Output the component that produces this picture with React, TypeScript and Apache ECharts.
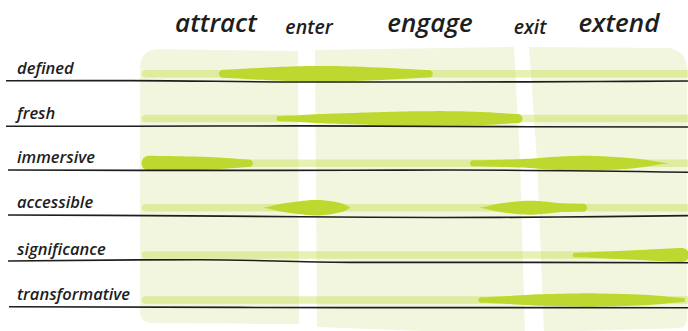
import React, { useEffect, useRef } from "react";
import * as echarts from "echarts";

// ---- data (chart units: x = journey position 0..688, y = vertical position 0..331) ----
const stages = ["attract", "enter", "engage", "exit", "extend"];
const stageX = [216, 309, 430, 530, 619];
const stageMajor = [true, false, true, false, true];
const stageBaseline = [32.5, 34, 32.5, 34, 32.5];

const rows = ["defined", "fresh", "immersive", "accessible", "significance", "transformative"];
const rowBandY = [73.8, 118.6, 163.3, 207.7, 255, 300];
const bandStartX = 145.5;
const bandEndX = 700;
const labelX = 17;

// rule lines under each row: [x, y]
const ruleDefined = [[6, 80.8], [130, 80.6], [300, 82], [450, 82], [600, 81.5], [688, 81]];
const ruleFresh = [[6, 126.2], [130, 126.2], [300, 125.9], [450, 126.5], [688, 127]];
const ruleImmersive = [[8, 170], [200, 170.4], [350, 170.2], [450, 170], [688, 172.3]];
const ruleAccessible = [[8, 215], [150, 215.6], [300, 216.7], [440, 217.5], [560, 217], [688, 215.6]];
const ruleSignificance = [[8, 261], [200, 259.7], [350, 262.4], [450, 262.3], [688, 262.7]];
const ruleTransformative = [[9, 306.7], [350, 307.6], [688, 307.7]];
const rules = [ruleDefined, ruleFresh, ruleImmersive, ruleAccessible, ruleSignificance, ruleTransformative];

// intensity blobs: profile = [x, thickness]; row index; rounded caps at start / end
const blobDefined = [[223, 8], [250, 11], [290, 14.5], [320, 15.8], [345, 15], [380, 12.5], [410, 9.5], [429, 7.5]];
const blobFresh = [[279, 5], [320, 9], [363, 12], [410, 14.5], [455, 14.8], [490, 12.5], [518, 9]];
const blobImmersiveA = [[149, 15], [180, 14], [210, 12.5], [235, 9.5], [249, 7.5]];
const blobImmersiveB = [[473, 6], [523, 8.5], [555, 13], [585, 15], [612, 13], [640, 8.5], [669, 0]];
const blobAccessibleA = [[263, 0], [280, 7.5], [300, 13], [316, 15.5], [331, 13], [343, 8], [351, 0]];
const blobAccessibleB = [[479, 0], [500, 8.5], [528, 14], [546, 12], [560, 9], [583, 8]];
const blobSignificance = [[575, 4.5], [605, 6.8], [633, 9.3], [660, 12], [677, 13.7], [682, 14]];
const blobTransformative = [[481, 5.3], [510, 8.2], [533, 11], [583, 13.3], [620, 12.2], [652, 9.6], [683, 4]];

const blobs = [
  { row: 0, profile: blobDefined, capStart: true, capEnd: true },
  { row: 1, profile: blobFresh, capStart: true, capEnd: true },
  { row: 2, profile: blobImmersiveA, capStart: true, capEnd: true },
  { row: 2, profile: blobImmersiveB, capStart: true, capEnd: false },
  { row: 3, profile: blobAccessibleA, capStart: false, capEnd: false },
  { row: 3, profile: blobAccessibleB, capStart: false, capEnd: true },
  { row: 4, profile: blobSignificance, capStart: true, capEnd: true },
  { row: 5, profile: blobTransformative, capStart: true, capEnd: true },
];

// background stage panels: outline vertices [x, y, cornerRadius]
const panelAttract = [[140, 49, 20], [298, 51, 0], [299, 324, 0], [140, 323, 12]];
const panelEngage = [[315, 50, 0], [514, 47, 0], [520, 160, 0], [525, 335, 0], [317, 327, 0]];
const panelExtend = [[529, 47, 0], [670, 48, 0], [687, 50, 20], [687, 328, 10], [544, 332, 0], [537, 160, 0]];
const panels = [panelAttract, panelEngage, panelExtend];

// ---- style ----
const FONT = '"Open Sans", "Noto Sans", sans-serif';
const PANEL = "#f2f6df";
const BAND = "rgba(190,216,46,0.37)";
const BLOB = "#bfd82f";
const INK = "#1e1e1e";

function catmull(p0: number, p1: number, p2: number, p3: number, s: number) {
  const s2 = s * s;
  const s3 = s2 * s;
  return 0.5 * (2 * p1 + (-p0 + p2) * s + (2 * p0 - 5 * p1 + 4 * p2 - p3) * s2 + (-p0 + 3 * p1 - 3 * p2 + p3) * s3);
}

function roundedPath(pts: number[][]) {
  const n = pts.length;
  let d = "";
  for (let i = 0; i < n; i++) {
    const p = pts[i];
    const prev = pts[(i - 1 + n) % n];
    const next = pts[(i + 1) % n];
    const r = p[2];
    if (r <= 0) {
      d += (i === 0 ? "M" : "L") + p[0].toFixed(2) + " " + p[1].toFixed(2) + " ";
    } else {
      const l1 = Math.hypot(prev[0] - p[0], prev[1] - p[1]);
      const l2 = Math.hypot(next[0] - p[0], next[1] - p[1]);
      const a = [p[0] + ((prev[0] - p[0]) * r) / l1, p[1] + ((prev[1] - p[1]) * r) / l1];
      const b = [p[0] + ((next[0] - p[0]) * r) / l2, p[1] + ((next[1] - p[1]) * r) / l2];
      d += (i === 0 ? "M" : "L") + a[0].toFixed(2) + " " + a[1].toFixed(2) + " ";
      d += "Q" + p[0].toFixed(2) + " " + p[1].toFixed(2) + " " + b[0].toFixed(2) + " " + b[1].toFixed(2) + " ";
    }
  }
  return d + "Z";
}

export default function App() {
  const ref = useRef<HTMLDivElement>(null);

  useEffect(() => {
    if (!ref.current) return;
    const chart = echarts.init(ref.current, null, { renderer: "svg" });

    const series: any[] = [];

    // panels
    series.push({
      type: "custom",
      silent: true,
      clip: false,
      z: 1,
      data: panels.map((p) => [p[0][0], p[0][1]]),
      renderItem: (params: any, api: any) => {
        const pts = panels[params.dataIndex].map((v) => {
          const c = api.coord([v[0], v[1]]);
          return [c[0], c[1], v[2] * api.size([1, 1])[0]];
        });
        return { type: "path", shape: { pathData: roundedPath(pts) }, style: { fill: PANEL } };
      },
    });

    // bands
    rowBandY.forEach((y) => {
      series.push({
        type: "line",
        silent: true,
        z: 2,
        symbol: "none",
        data: [[bandStartX, y], [bandEndX, y]],
        lineStyle: { color: BAND, width: 7.5, cap: "round" },
      });
    });

    // blobs
    series.push({
      type: "custom",
      silent: true,
      clip: false,
      z: 3,
      data: blobs.map((b) => [b.profile[0][0], rowBandY[b.row]]),
      renderItem: (params: any, api: any) => {
        const b = blobs[params.dataIndex];
        const prof = b.profile;
        const cyData = rowBandY[b.row];
        const unit = api.size([1, 1]);
        const upper: number[][] = [];
        const lower: number[][] = [];
        const n = prof.length;
        const steps = 10;
        for (let i = 0; i < n - 1; i++) {
          const p0 = prof[Math.max(0, i - 1)];
          const p1 = prof[i];
          const p2 = prof[i + 1];
          const p3 = prof[Math.min(n - 1, i + 2)];
          for (let k = 0; k < steps; k++) {
            const s = k / steps;
            const x = p1[0] + (p2[0] - p1[0]) * s;
            const t = Math.max(0, catmull(p0[1], p1[1], p2[1], p3[1], s));
            const c = api.coord([x, cyData]);
            const h = (t / 2) * unit[1];
            upper.push([c[0], c[1] - h]);
            lower.push([c[0], c[1] + h]);
          }
        }
        const last = prof[n - 1];
        const cl = api.coord([last[0], cyData]);
        const hl = (last[1] / 2) * unit[1];
        upper.push([cl[0], cl[1] - hl]);
        lower.push([cl[0], cl[1] + hl]);
        const pts: number[][] = [...upper];
        if (b.capEnd && hl > 0) {
          for (let k = 1; k < 12; k++) {
            const a = -Math.PI / 2 + (Math.PI * k) / 12;
            pts.push([cl[0] + hl * Math.cos(a), cl[1] + hl * Math.sin(a)]);
          }
        }
        for (let i = lower.length - 1; i >= 0; i--) pts.push(lower[i]);
        const first = prof[0];
        const cf = api.coord([first[0], cyData]);
        const hf = (first[1] / 2) * unit[1];
        if (b.capStart && hf > 0) {
          for (let k = 1; k < 12; k++) {
            const a = Math.PI / 2 + (Math.PI * k) / 12;
            pts.push([cf[0] + hf * Math.cos(a), cf[1] + hf * Math.sin(a)]);
          }
        }
        return { type: "polygon", shape: { points: pts }, style: { fill: BLOB } };
      },
    });

    // rule lines
    rules.forEach((r) => {
      series.push({
        type: "line",
        silent: true,
        z: 4,
        symbol: "none",
        smooth: 0.4,
        data: r,
        lineStyle: { color: INK, width: 1.6 },
      });
    });

    // row labels
    series.push({
      type: "custom",
      silent: true,
      clip: false,
      z: 5,
      data: rows.map((_, i) => [labelX, rowBandY[i]]),
      renderItem: (params: any, api: any) => {
        const i = params.dataIndex;
        const size = 16.5;
        const c = api.coord([labelX, rowBandY[i]]);
        return {
          type: "text",
          x: c[0],
          y: c[1] - size * 0.39,
          style: {
            text: rows[i],
            fill: INK,
            fontFamily: FONT,
            fontStyle: "italic",
            fontWeight: 600,
            fontSize: size,
            textAlign: "left",
            textVerticalAlign: "middle",
          },
        };
      },
    });

    // stage headers
    series.push({
      type: "custom",
      silent: true,
      clip: false,
      z: 5,
      data: stages.map((_, i) => [stageX[i], stageBaseline[i]]),
      renderItem: (params: any, api: any) => {
        const i = params.dataIndex;
        const size = stageMajor[i] ? 26 : 19.5;
        const c = api.coord([stageX[i], stageBaseline[i]]);
        return {
          type: "text",
          x: c[0],
          y: c[1] - size * 0.39,
          style: {
            text: stages[i],
            fill: INK,
            fontFamily: FONT,
            fontStyle: "italic",
            fontWeight: 600,
            fontSize: size,
            textAlign: "center",
            textVerticalAlign: "middle",
          },
        };
      },
    });

    chart.setOption({
      animation: false,
      grid: { left: 0, right: 0, top: 0, bottom: 0 },
      xAxis: { type: "value", min: 0, max: 688, show: false },
      yAxis: { type: "value", min: 0, max: 331, inverse: true, show: false },
      series,
    });

    return () => chart.dispose();
  }, []);

  return (
    <div
      ref={ref}
      style={{ position: "fixed", left: 0, top: 0, width: 688, height: 331, background: "#ffffff" }}
    />
  );
}
